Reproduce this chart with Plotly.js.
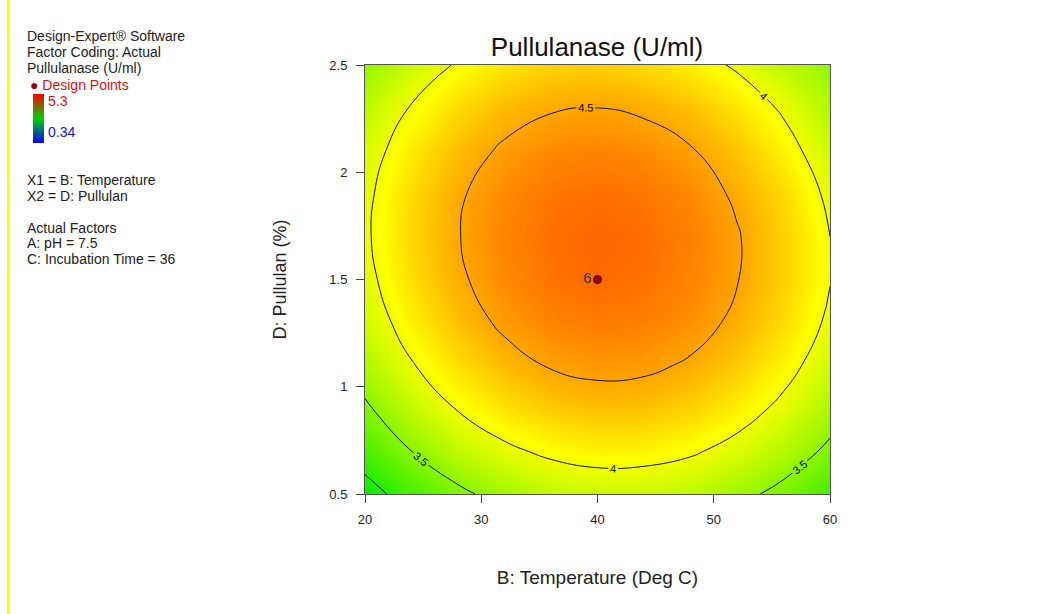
<!DOCTYPE html>
<html>
<head>
<meta charset="utf-8">
<script src="https://cdn.plot.ly/plotly-3.0.1.min.js"></script>
<style>
  html, body { margin: 0; padding: 0; background: #fff; }
  #wrap { position: relative; width: 1062px; height: 614px; }
  #bar { position: absolute; left: 7px; top: 0; width: 3px; height: 614px; background: #ffff00; z-index: 5; }
  #chart { width: 1062px; height: 614px; }
</style>
</head>
<body>
<div id="wrap"><div id="bar"></div><div id="chart"></div></div>
<script>
// Temperature (Deg C) grid
const temperature = [20, 24, 28, 32, 36, 40, 44, 48, 52, 56, 60];
// Pullulan (%) grid
const pullulan = [0.5, 0.7, 0.9, 1.1, 1.3, 1.5, 1.7, 1.9, 2.1, 2.3, 2.5];
// Pullulanase (U/ml) values, rows = pullulan, cols = temperature
const pullulanase = [
  [2.85, 3.17, 3.43, 3.62, 3.75, 3.81, 3.80, 3.74, 3.60, 3.40, 3.14],
  [3.18, 3.50, 3.75, 3.94, 4.06, 4.12, 4.11, 4.04, 3.90, 3.70, 3.43],
  [3.45, 3.77, 4.02, 4.20, 4.32, 4.37, 4.36, 4.28, 4.14, 3.93, 3.66],
  [3.67, 3.98, 4.22, 4.40, 4.52, 4.57, 4.55, 4.47, 4.32, 4.11, 3.83],
  [3.83, 4.13, 4.37, 4.55, 4.66, 4.70, 4.68, 4.60, 4.45, 4.23, 3.95],
  [3.92, 4.22, 4.46, 4.63, 4.74, 4.78, 4.75, 4.66, 4.51, 4.29, 4.01],
  [3.96, 4.26, 4.49, 4.66, 4.76, 4.80, 4.77, 4.68, 4.52, 4.29, 4.00],
  [3.94, 4.24, 4.47, 4.63, 4.73, 4.76, 4.73, 4.63, 4.46, 4.24, 3.94],
  [3.87, 4.16, 4.38, 4.54, 4.63, 4.66, 4.62, 4.52, 4.35, 4.12, 3.82],
  [3.73, 4.02, 4.24, 4.39, 4.48, 4.50, 4.46, 4.36, 4.19, 3.96, 3.68],
  [3.54, 3.82, 4.03, 4.18, 4.27, 4.29, 4.24, 4.13, 3.96, 3.74, 3.53]
];
// Design point
const designTemp = [40];
const designPull = [1.5];
const designLabel = ['6'];
// Colour range of response (legend)
const respMin = 0.34;
const respMax = 5.3;
// Contour levels
const levelStart = 3, levelEnd = 4.5, levelStep = 0.5;
// Axis ticks
const xTicks = [20, 30, 40, 50, 60];
const yTicks = [0.5, 1, 1.5, 2, 2.5];
const yTickText = ['0.5', '1', '1.5', '2', '2.5'];

const W = 1062, H = 614;
const L = 365, R = 830, T = 65, B = 494;
const px2x = p => (p - L) / (R - L);
const py2y = p => (B - p) / (B - T);

const fillScale = [
  [0, 'rgb(0,0,255)'],
  [0.25, 'rgb(0,255,255)'],
  [0.5, 'rgb(0,235,0)'],
  [0.75, 'rgb(255,255,0)'],
  [1, 'rgb(255,0,0)']
];
const legendScale = [
  [0, 'rgb(0,0,255)'],
  [0.5, 'rgb(0,210,0)'],
  [1, 'rgb(255,0,0)']
];

const font = 'Liberation Sans, Arial, sans-serif';

const contour = {
  type: 'contour',
  x: temperature, y: pullulan, z: pullulanase,
  zmin: respMin, zmax: respMax, zauto: false,
  colorscale: fillScale, showscale: false,
  contours: {
    coloring: 'heatmap', start: levelStart, end: levelEnd, size: levelStep,
    showlabels: true,
    labelfont: { family: font, size: 11, color: '#000' }
  },
  line: { color: '#111', width: 1, smoothing: 1.3 },
  hoverinfo: 'skip'
};

const legendBar = {
  type: 'scatter', mode: 'markers',
  x: [null], y: [null],
  marker: {
    color: [respMin], cmin: respMin, cmax: respMax, colorscale: legendScale, showscale: true,
    colorbar: {
      x: px2x(33), xanchor: 'left', y: py2y(94), yanchor: 'top',
      lenmode: 'pixels', len: 49, thickness: 11,
      xpad: 0, ypad: 0, outlinewidth: 0,
      showticklabels: false, ticks: ''
    }
  },
  hoverinfo: 'skip', showlegend: false
};

const points = {
  type: 'scatter', mode: 'markers+text',
  x: designTemp, y: designPull, text: designLabel,
  textposition: 'middle left',
  textfont: { family: font, size: 15, color: '#333' },
  marker: { size: 8, color: '#a00000', line: { color: '#400000', width: 1 } },
  hoverinfo: 'skip', showlegend: false
};

function note(text, px, py, color, size) {
  return {
    text: text, xref: 'paper', yref: 'paper', x: px2x(px), y: py2y(py),
    xanchor: 'left', yanchor: 'middle', showarrow: false,
    font: { family: font, size: size || 14, color: color || '#222' }
  };
}

const annotations = [
  note('Design-Expert® Software', 25, 36),
  note('Factor Coding: Actual', 25, 52),
  note('Pullulanase (U/ml)', 25, 68),
  note('<span style="color:#a00000">●</span> Design Points', 28, 85, '#e01010'),
  note('5.3', 46, 101, '#e01010'),
  note('0.34', 46, 132, '#1010e0'),
  note('X1 = B: Temperature', 25, 180),
  note('X2 = D: Pullulan', 25, 196),
  note('Actual Factors', 25, 228),
  note('A: pH = 7.5', 25, 243),
  note('C: Incubation Time = 36', 25, 259)
];

const layout = {
  width: W, height: H,
  margin: { l: L, r: W - R, t: T, b: H - B, pad: 0 },
  paper_bgcolor: '#fff', plot_bgcolor: '#fff',
  font: { family: font, color: '#222' },
  showlegend: false,
  title: {
    text: 'Pullulanase (U/ml)', font: { family: font, size: 26, color: '#111' },
    x: px2x(597), xref: 'paper', xanchor: 'center',
    y: 1 - 47 / H, yref: 'container', yanchor: 'middle'
  },
  xaxis: {
    range: [20, 60], tickvals: xTicks, ticks: 'outside', ticklen: 8, tickcolor: '#444',
    ticklabelstandoff: 5,
    showgrid: false, zeroline: false, showline: true, linecolor: '#555', mirror: true,
    tickfont: { family: font, size: 13, color: '#222' },
    title: { text: 'B: Temperature (Deg C)', font: { family: font, size: 19, color: '#222' }, standoff: 45 },
    automargin: false
  },
  yaxis: {
    range: [0.5, 2.5], tickvals: yTicks, ticktext: yTickText, ticks: 'outside', ticklen: 8, tickcolor: '#444',
    ticklabelstandoff: 6,
    showgrid: false, zeroline: false, showline: true, linecolor: '#555', mirror: true,
    tickfont: { family: font, size: 13, color: '#222' },
    title: { text: 'D: Pullulan (%)', font: { family: font, size: 18, color: '#222' }, standoff: 38 },
    automargin: false
  },
  annotations: annotations
};

Plotly.newPlot('chart', [contour, legendBar, points], layout, { displayModeBar: false, staticPlot: true });
</script>
</body>
</html>
